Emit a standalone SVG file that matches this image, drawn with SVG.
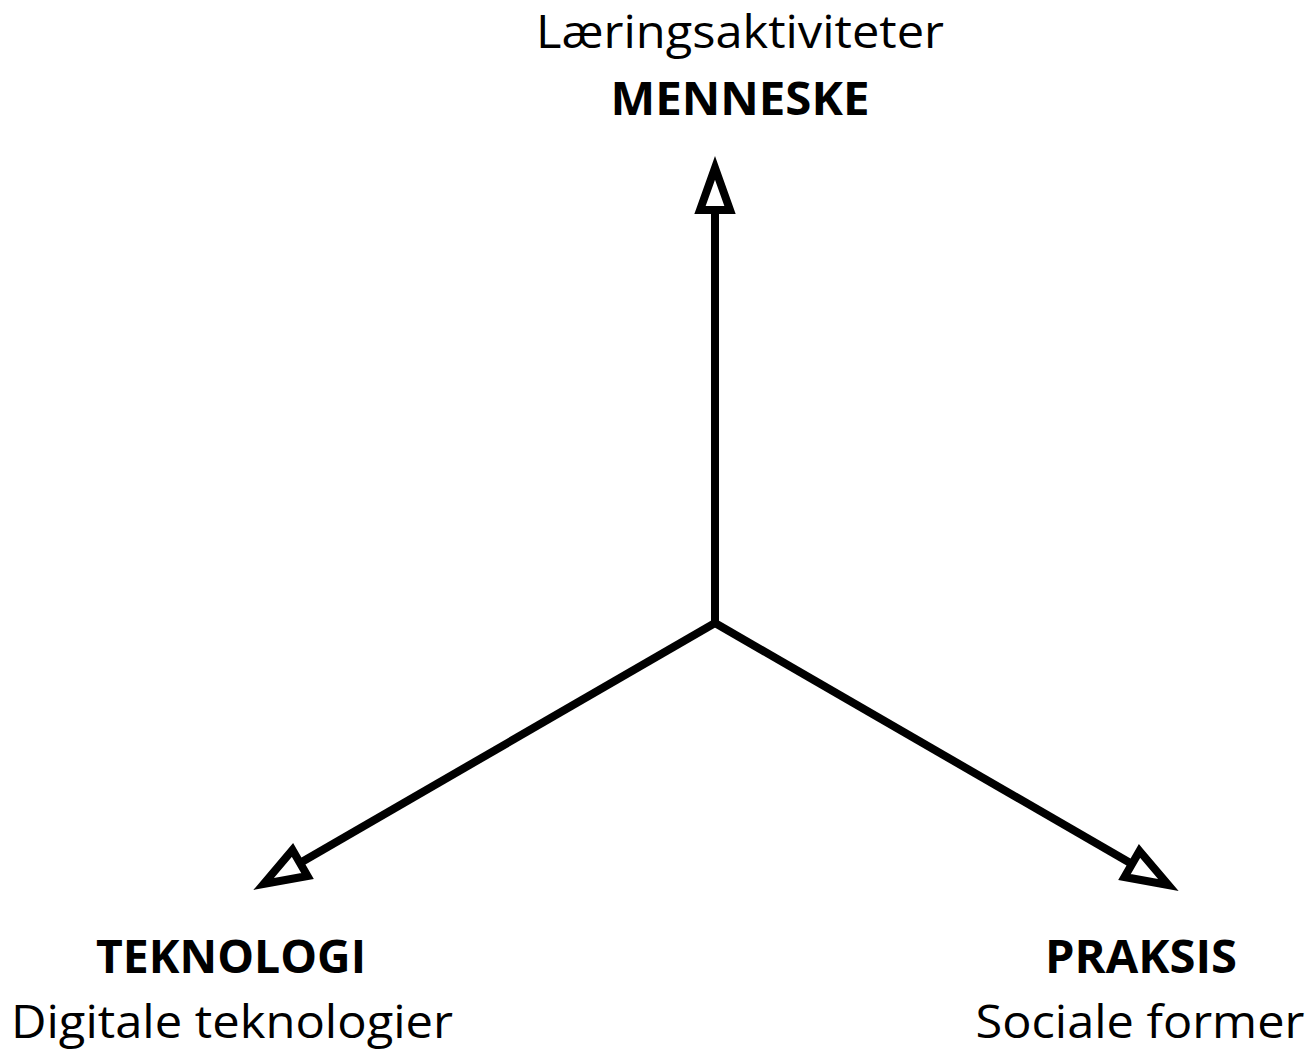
<svg xmlns="http://www.w3.org/2000/svg" width="1307" height="1052" viewBox="0 0 1307 1052">
<style>
.t{font-family:"Open Sans","Liberation Sans",sans-serif;font-size:46px;fill:#000;text-anchor:middle}
.b{font-weight:bold}
.c{stroke:#000;stroke-width:8;fill:none}
</style>
<defs>
<marker id="arr" viewBox="-10 -30 80 60" markerWidth="80" markerHeight="60" refX="0" refY="0" orient="auto" markerUnits="userSpaceOnUse">
<path d="M0,-15 L42,0 L0,15 Z" fill="#fff" stroke="#000" stroke-width="8"/>
</marker>
</defs>
<rect width="1307" height="1052" fill="#fff"/>
<g id="connectors">
<line class="c" x1="715" y1="627" x2="715" y2="210" marker-end="url(#arr)"/>
<line class="c" x1="715" y1="623" x2="300" y2="863" marker-end="url(#arr)"/>
<line class="c" x1="715" y1="623" x2="1132" y2="864" marker-end="url(#arr)"/>
</g>
<g id="menneske">
<text class="t" x="740" y="48" textLength="408" lengthAdjust="spacingAndGlyphs">Læringsaktiviteter</text>
<text class="t b" x="740" y="115" textLength="259" lengthAdjust="spacingAndGlyphs">MENNESKE</text>
</g>
<g id="teknologi">
<text class="t b" x="231" y="973" textLength="270" lengthAdjust="spacingAndGlyphs">TEKNOLOGI</text>
<text class="t" x="232" y="1038" textLength="442" lengthAdjust="spacingAndGlyphs">Digitale teknologier</text>
</g>
<g id="praksis">
<text class="t b" x="1141" y="973" textLength="192" lengthAdjust="spacingAndGlyphs">PRAKSIS</text>
<text class="t" x="1140" y="1038" textLength="329" lengthAdjust="spacingAndGlyphs">Sociale former</text>
</g>
</svg>
